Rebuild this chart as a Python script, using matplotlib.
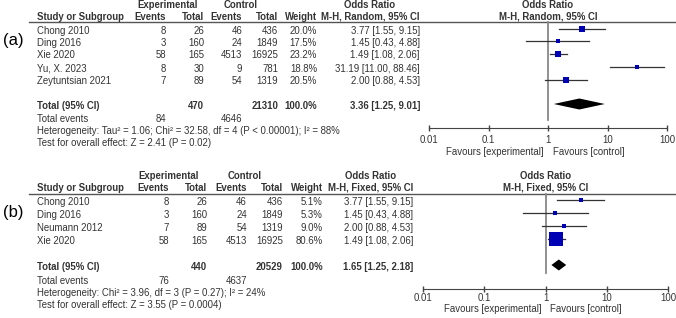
import numpy as np
import matplotlib
matplotlib.use("Agg")
import matplotlib.pyplot as plt

plt.rcParams['font.family'] = ['Liberation Sans', 'DejaVu Sans']

# ---- panel (a): random effects ----
a_names = ["Chong 2010", "Ding 2016", "Xie 2020", "Yu, X. 2023", "Zeytuntsian 2021"]
a_exp_events = [8, 3, 58, 8, 7]
a_exp_total = [26, 160, 165, 30, 89]
a_ctl_events = [46, 24, 4513, 9, 54]
a_ctl_total = [436, 1849, 16925, 781, 1319]
a_weight = [20.0, 17.5, 23.2, 18.8, 20.5]
a_or = [3.77, 1.45, 1.49, 31.19, 2.00]
a_lo = [1.55, 0.43, 1.08, 11.00, 0.88]
a_hi = [9.15, 4.88, 2.06, 88.46, 4.53]
a_total = [470, 21310]
a_total_events = [84, 4646]
a_pooled = [3.36, 1.25, 9.01]
a_method = "M-H, Random, 95% CI"
a_het = "Heterogeneity: Tau\u00b2 = 1.06; Chi\u00b2 = 32.58, df = 4 (P < 0.00001); I\u00b2 = 88%"
a_test = "Test for overall effect: Z = 2.41 (P = 0.02)"

# ---- panel (b): fixed effects ----
b_names = ["Chong 2010", "Ding 2016", "Neumann 2012", "Xie 2020"]
b_exp_events = [8, 3, 7, 58]
b_exp_total = [26, 160, 89, 165]
b_ctl_events = [46, 24, 54, 4513]
b_ctl_total = [436, 1849, 1319, 16925]
b_weight = [5.1, 5.3, 9.0, 80.6]
b_or = [3.77, 1.45, 2.00, 1.49]
b_lo = [1.55, 0.43, 0.88, 1.08]
b_hi = [9.15, 4.88, 4.53, 2.06]
b_total = [440, 20529]
b_total_events = [76, 4637]
b_pooled = [1.65, 1.25, 2.18]
b_method = "M-H, Fixed, 95% CI"
b_het = "Heterogeneity: Chi\u00b2 = 3.96, df = 3 (P = 0.27); I\u00b2 = 24%"
b_test = "Test for overall effect: Z = 3.55 (P = 0.0004)"

ticks = [0.01, 0.1, 1, 10, 100]
tick_labels = ["0.01", "0.1", "1", "10", "100"]

W, H = 676, 318
FS = 6.9
BLUE = "#0000b4"

fig = plt.figure(figsize=(W / 100, H / 100), dpi=100)
bg = fig.add_axes([0, 0, 1, 1])
bg.set_xlim(0, W)
bg.set_ylim(H, 0)
bg.axis('off')


def draw_panel(label, names, ee, et, ce, ct, wt, orr, lo, hi, tot, tev, pooled,
               method, het, test, lay):
    cx = lay['cols']
    # panel letter
    bg.text(3, lay['label_y'], label, fontsize=12, va='center', ha='left')
    # headers
    bg.text(cx[5], lay['h1'], "Experimental", ha='center', va='center', fontsize=FS, fontweight='bold', color='#333')
    bg.text(cx[6], lay['h1'], "Control", ha='center', va='center', fontsize=FS, fontweight='bold', color='#333')
    bg.text(37, lay['h2'], "Study or Subgroup", ha='left', va='center', fontsize=FS, fontweight='bold', color='#333')
    for x, t in zip(cx[:5], ["Events", "Total", "Events", "Total", "Weight"]):
        bg.text(x, lay['h2'], t, ha='right', va='center', fontsize=FS, fontweight='bold', color='#333')
    bg.text(lay['ci_c'], lay['h1'], "Odds Ratio", ha='center', va='center', fontsize=FS, fontweight='bold', color='#333')
    bg.text(lay['ci_c'], lay['h2'], method, ha='center', va='center', fontsize=FS, fontweight='bold', color='#333')
    bg.plot([29, W], [lay['line'], lay['line']], color='#555555', lw=1)

    off = lay['toff']
    for i, y in enumerate(lay['rows']):
        ty = y + off
        bg.text(37, ty, names[i], ha='left', va='center', fontsize=FS, color='#333')
        vals = [ee[i], et[i], ce[i], ct[i], "%.1f%%" % wt[i]]
        for x, v in zip(cx[:5], vals):
            bg.text(x, ty, str(v), ha='right', va='center', fontsize=FS, color='#333')
        bg.text(lay['ci_r'], ty, "%.2f [%.2f, %.2f]" % (orr[i], lo[i], hi[i]),
                ha='right', va='center', fontsize=FS, color='#333')
    ty = lay['total'] + off
    bg.text(37, ty, "Total (95% CI)", ha='left', va='center', fontsize=FS, fontweight='bold', color='#333')
    bg.text(cx[1], ty, str(tot[0]), ha='right', va='center', fontsize=FS, fontweight='bold', color='#333')
    bg.text(cx[3], ty, str(tot[1]), ha='right', va='center', fontsize=FS, fontweight='bold', color='#333')
    bg.text(cx[4], ty, "100.0%", ha='right', va='center', fontsize=FS, fontweight='bold', color='#333')
    bg.text(lay['ci_r'], ty, "%.2f [%.2f, %.2f]" % tuple(pooled), ha='right', va='center',
            fontsize=FS, fontweight='bold', color='#333')
    fy = lay['foot']
    bg.text(37, fy[0], "Total events", ha='left', va='center', fontsize=FS, color='#333')
    bg.text(cx[0], fy[0], str(tev[0]), ha='right', va='center', fontsize=FS, color='#333')
    bg.text(cx[2], fy[0], str(tev[1]), ha='right', va='center', fontsize=FS, color='#333')
    bg.text(37, fy[1], het, ha='left', va='center', fontsize=FS, color='#333')
    bg.text(37, fy[2], test, ha='left', va='center', fontsize=FS, color='#333')

    # forest plot
    x0, x1 = lay['fx']
    ax = fig.add_axes([x0 / W, 0, (x1 - x0) / W, 1])
    ax.set_xscale('log')
    ax.set_xlim(0.01, 100)
    ax.set_ylim(H, 0)
    ax.patch.set_alpha(0)
    for s in ['top', 'left', 'right']:
        ax.spines[s].set_visible(False)
    ax.spines['bottom'].set_position(('data', lay['axis_y']))
    ax.spines['bottom'].set_color('#444444')
    ax.set_xticks(ticks)
    ax.set_xticklabels(tick_labels)
    ax.minorticks_off()
    ax.set_yticks([])
    ax.tick_params(axis='x', direction='inout', length=5, width=1, color='#444444',
                   labelsize=FS, labelcolor='#333', pad=lay['pad'])
    ax.plot([1, 1], [lay['line'], lay['vend']], color='#888888', lw=1.3, zorder=1)
    for i, y in enumerate(lay['rows']):
        ax.plot([lo[i], hi[i]], [y, y], color='#333333', lw=0.9, zorder=2)
        side = lay['sq'] * np.sqrt(wt[i]) * 0.72
        ax.plot(orr[i], y, marker='s', ms=side, color=BLUE, mec=BLUE, mew=0, zorder=3)
    est, plo, phi = pooled
    yt = lay['total']
    hd = lay['dh']
    ax.fill([plo, est, phi, est], [yt, yt - hd, yt, yt + hd], color='black', lw=0, zorder=3)
    ax.annotate("Favours [experimental]", xy=(1, lay['fav']), xytext=(-4, 0),
                textcoords='offset pixels', ha='right', va='center', fontsize=FS, color='#333')
    ax.annotate("Favours [control]", xy=(1, lay['fav']), xytext=(5, 0),
                textcoords='offset pixels', ha='left', va='center', fontsize=FS, color='#333')
    ax.text(1, lay['h1'], "Odds Ratio", ha='center', va='center', fontsize=FS, fontweight='bold', color='#333')
    ax.text(1, lay['h2'], method, ha='center', va='center', fontsize=FS, fontweight='bold', color='#333')


lay_a = dict(cols=[166, 204, 242, 278, 317, 168, 241], label_y=41, h1=5.5, h2=16.5, line=22,
             rows=[28.5, 41, 53.5, 66.5, 79.5], total=104, toff=2, foot=[119, 131, 143],
             ci_r=420, ci_c=370, fx=(429, 667), axis_y=128, vend=120, fav=152, pad=2.5,
             sq=1.15, dh=5.5)
lay_b = dict(cols=[169, 207, 247, 283, 323, 169, 245], label_y=213, h1=176, h2=188, line=193.5,
             rows=[199.5, 212.5, 225.5, 238.5], total=265, toff=2.5, foot=[281, 292.5, 305],
             ci_r=413, ci_c=371, fx=(423, 668), axis_y=288.5, vend=273, fav=309.5, pad=1.0,
             sq=1.45, dh=5.5)

draw_panel("(a)", a_names, a_exp_events, a_exp_total, a_ctl_events, a_ctl_total, a_weight,
           a_or, a_lo, a_hi, a_total, a_total_events, a_pooled, a_method, a_het, a_test, lay_a)
draw_panel("(b)", b_names, b_exp_events, b_exp_total, b_ctl_events, b_ctl_total, b_weight,
           b_or, b_lo, b_hi, b_total, b_total_events, b_pooled, b_method, b_het, b_test, lay_b)

fig.savefig("out.png", dpi=100)
